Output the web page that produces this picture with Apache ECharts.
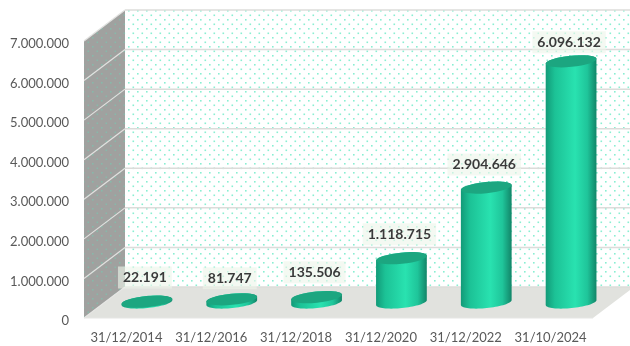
<!DOCTYPE html>
<html>
<head>
<meta charset="utf-8">
<style>html,body{margin:0;padding:0;background:#fff}#chart{width:630px;height:346px}</style>
<script src="https://cdn.jsdelivr.net/npm/echarts@6/dist/echarts.min.js"></script>
</head>
<body>
<div id="chart"></div>
<script>
// Closing balances by reporting date
const dates = ['31/12/2014', '31/12/2016', '31/12/2018', '31/12/2020', '31/12/2022', '31/10/2024'];
const balances = [22191, 81747, 135506, 1118715, 2904646, 6096132];
const labelLift = [24, 21, 25, 24, 23, 19];

const axisMax = 7000000;
const axisStep = 1000000;

// Oblique depth of the box, and of the plane the cylinders stand on.
// The front plane sits slightly above the axis so tick labels centre on its lines.
const frontLift = -3;
const depth = { x: 41, y: -31 };
const midDepth = { x: 20.5, y: -15.5 };
const cyl = { rx: 25.5, ry: 5.6, tilt: 0.1 };

const fontFamily = 'Lato, "Open Sans", sans-serif';

const fmt = v => String(v).replace(/\B(?=(\d{3})+(?!\d))/g, '.');

function dotPattern(bg, dot) {
  const c = document.createElement('canvas');
  c.width = 9; c.height = 9;
  const g = c.getContext('2d');
  g.fillStyle = bg; g.fillRect(0, 0, 9, 9);
  g.fillStyle = dot;
  g.fillRect(2, 1, 1.6, 1.6);
  g.fillRect(6.5, 5.5, 1.6, 1.6);
  return { image: c, repeat: 'repeat' };
}

const wallFill = dotPattern('#ffffff', '#8aeed2');
const sideFill = dotPattern('#a0a19f', '#88b8aa');

// Back wall, side wall, floor and gridlines of the box
function renderBox(params, api) {
  const r = params.coordSys;
  const x0 = r.x, x1 = r.x + r.width;
  const yBase = api.coord([0, 0])[1] + frontLift;
  const yTop = api.coord([0, axisMax])[1] + frontLift;
  const backX = x0 + depth.x, backRight = x1 + depth.x;
  const kids = [
    { type: 'rect', shape: { x: backX, y: yTop + depth.y, width: backRight - backX, height: yBase - yTop },
      style: { fill: wallFill } },
    { type: 'polygon', shape: { points: [[x0, yTop], [backX, yTop + depth.y], [backX, yBase + depth.y], [x0, yBase]] },
      style: { fill: sideFill } },
    { type: 'polygon', shape: { points: [[x0, yBase], [backX, yBase + depth.y], [backRight, yBase + depth.y], [x1, yBase]] },
      style: { fill: '#e1e2de' } }
  ];
  for (let t = 0; t <= axisMax; t += axisStep) {
    const y = api.coord([0, t])[1] + frontLift;
    kids.push({ type: 'line', shape: { x1: backX, y1: y + depth.y, x2: backRight, y2: y + depth.y },
      style: { stroke: '#dcdcda', lineWidth: 1.5 } });
    if (t > 0) {
      kids.push({ type: 'line', shape: { x1: x0, y1: y, x2: backX, y2: y + depth.y },
        style: { stroke: '#e2e2e0', lineWidth: 1.2 } });
    }
  }
  kids.push({ type: 'line', shape: { x1: x0, y1: yBase, x2: x1, y2: yBase }, style: { stroke: '#e6e6e4', lineWidth: 1.2 } });
  kids.push({ type: 'line', shape: { x1: x0, y1: yBase, x2: backX, y2: yBase + depth.y }, style: { stroke: '#e6e6e4', lineWidth: 1.2 } });
  return { type: 'group', children: kids };
}

// Point on a tilted ellipse centred at (cx, cy)
function rim(cx, cy, a) {
  const ex = cyl.rx * Math.cos(a), ey = cyl.ry * Math.sin(a);
  return [cx + ex * Math.cos(cyl.tilt) + ey * Math.sin(cyl.tilt),
          cy - ex * Math.sin(cyl.tilt) + ey * Math.cos(cyl.tilt)];
}

function renderCylinder(params, api) {
  const i = api.value(0), v = api.value(1);
  const top = api.coord([i, v]), base = api.coord([i, 0]);
  const cx = top[0] + midDepth.x;
  const yTop = top[1] + frontLift + midDepth.y, yBase = base[1] + frontLift + midDepth.y;
  const pts = [];
  for (let k = 0; k <= 36; k++) pts.push(rim(cx, yBase, Math.PI * k / 36));
  for (let k = 0; k <= 36; k++) pts.push(rim(cx, yTop, Math.PI + Math.PI * k / 36));
  const body = {
    type: 'polygon', shape: { points: pts },
    style: { fill: { type: 'linear', x: 0, y: 0, x2: 1, y2: 0, colorStops: [
      { offset: 0, color: '#129a78' }, { offset: 0.18, color: '#1cc296' },
      { offset: 0.58, color: '#29e2b0' }, { offset: 0.82, color: '#1fc59a' },
      { offset: 1, color: '#128568' } ] } }
  };
  const cap = {
    type: 'ellipse', x: cx, y: yTop, rotation: cyl.tilt,
    shape: { cx: 0, cy: 0, rx: cyl.rx, ry: cyl.ry },
    style: { fill: '#1ca680' }
  };
  const label = {
    type: 'text', x: cx - 2, y: yTop - labelLift[i], z2: 10,
    style: {
      text: fmt(v), fill: '#3a3a3a', font: 'bold 14px ' + fontFamily,
      align: 'center', verticalAlign: 'middle',
      backgroundColor: 'rgba(238,246,234,0.62)', padding: [4, 5, 4, 5]
    }
  };
  return { type: 'group', children: [body, cap, label] };
}

const chart = echarts.init(document.getElementById('chart'), null, { renderer: 'canvas' });
chart.setOption({
  animation: false,
  backgroundColor: '#ffffff',
  grid: { left: 84, top: 44, width: 509, height: 277 },
  xAxis: {
    type: 'category', data: dates,
    axisLine: { show: false }, axisTick: { show: false }, splitLine: { show: false },
    axisLabel: { color: '#595959', fontFamily, fontSize: 13, margin: 10, interval: 0 }
  },
  yAxis: {
    type: 'value', min: 0, max: axisMax, interval: axisStep,
    axisLine: { show: false }, axisTick: { show: false }, splitLine: { show: false },
    axisLabel: { color: '#595959', fontFamily, fontSize: 13, margin: 15, formatter: fmt }
  },
  series: [
    { type: 'custom', silent: true, z: 1, clip: false, renderItem: renderBox, data: [0] },
    { type: 'custom', silent: true, z: 2, clip: false, renderItem: renderCylinder,
      encode: { x: 0, y: 1 }, data: balances.map((v, i) => [i, v]) }
  ]
});
</script>
</body>
</html>
